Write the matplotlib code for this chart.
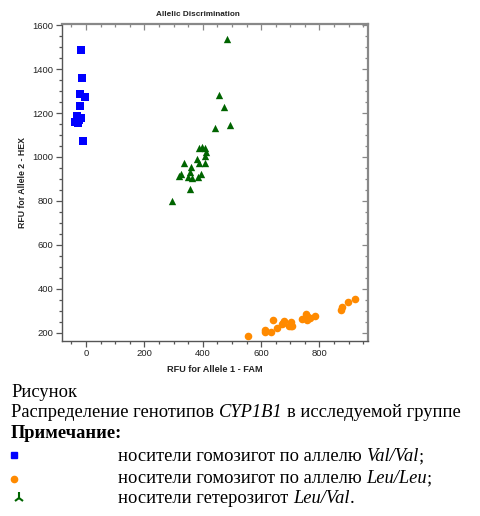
import matplotlib
matplotlib.use("Agg")
import matplotlib.pyplot as plt
from matplotlib.lines import Line2D
from matplotlib.ticker import MultipleLocator

# Data (RFU values)
val_x = [-19, -15, -20, -4, -20, -30, -16, -38, -27, -12, -23]
val_y = [1485, 1360, 1285, 1274, 1230, 1188, 1176, 1159, 1153, 1074, 1168]

leu_x = [554, 613, 612, 633, 641, 656, 671, 679, 675, 695, 702, 703, 707,
         739, 753, 758, 762, 768, 784, 873, 879, 897, 921]
leu_y = [186, 215, 206, 206, 259, 220, 241, 253, 247, 233, 248, 230, 233,
         264, 285, 258, 270, 267, 276, 306, 317, 341, 356]

het_x = [482, 457, 473, 493, 442, 388, 399, 407, 411, 407, 381, 388, 407,
         335, 358, 356, 324, 319, 350, 362, 384, 394, 356, 293]
het_y = [1536, 1283, 1227, 1145, 1133, 1040, 1047, 1040, 1024, 1005, 989, 971, 971,
         971, 953, 933, 923, 914, 910, 906, 910, 923, 853, 801]

# caption lines: (text, italic) pieces, spaces go between pieces
caption = [
    [("Рисунок", False)],
    [("Распределение генотипов", False), ("CYP1B1", True), ("в исследуемой группе", False)],
]
legend_lines = [
    [("носители гомозигот по аллелю", False), ("Val/Val", True), (";", False)],
    [("носители гомозигот по аллелю", False), ("Leu/Leu", True), (";", False)],
    [("носители гетерозигот", False), ("Leu/Val", True), (".", False)],
]

c_blue = "#0000ff"
c_orange = "#ff8a00"
c_green = "#006400"

plt.rcParams["font.family"] = ["Liberation Sans", "DejaVu Sans"]

W, H = 481, 516
fig = plt.figure(figsize=(W / 100, H / 100), dpi=100)
ax = fig.add_axes([0.128, 0.34, 0.638, 0.6135])

ax.scatter(val_x, val_y, marker="s", s=26, color=c_blue, linewidths=0, zorder=3)
ax.scatter(leu_x, leu_y, marker="o", s=30, color=c_orange, linewidths=0, zorder=3)
ax.scatter(het_x, het_y, marker="^", s=28, color=c_green, linewidths=0, zorder=3)

ax.set_xlim(-84, 968)
ax.set_ylim(165, 1605)
ax.xaxis.set_major_locator(MultipleLocator(200))
ax.xaxis.set_minor_locator(MultipleLocator(50))
ax.yaxis.set_major_locator(MultipleLocator(200))
ax.yaxis.set_minor_locator(MultipleLocator(50))
ax.tick_params(which="both", direction="out", colors="#555555", labelcolor="#222222",
               labelsize=6.8, width=0.9, pad=2)
ax.tick_params(which="major", length=4)
ax.tick_params(which="minor", length=2.5)

for side in ["left", "bottom"]:
    ax.spines[side].set_color("#555555")
    ax.spines[side].set_linewidth(1.0)
for side in ["top", "right"]:
    ax.spines[side].set_color("#888888")
    ax.spines[side].set_linewidth(1.6)

# inward ticks on the top and right frame
top = ax.secondary_xaxis("top")
top.xaxis.set_major_locator(MultipleLocator(200))
top.xaxis.set_minor_locator(MultipleLocator(50))
top.tick_params(which="both", direction="in", labeltop=False, colors="#888888", width=0.9)
top.tick_params(which="major", length=4)
top.tick_params(which="minor", length=2.5)
top.spines["top"].set_visible(False)
right = ax.secondary_yaxis("right")
right.yaxis.set_major_locator(MultipleLocator(200))
right.yaxis.set_minor_locator(MultipleLocator(50))
right.tick_params(which="both", direction="in", labelright=False, colors="#888888", width=0.9)
right.tick_params(which="major", length=4)
right.tick_params(which="minor", length=2.5)
right.spines["right"].set_visible(False)

fig.text(198 / W, 1 - 14 / H, "Allelic Discrimination", fontsize=5.9, fontweight="bold",
         color="#222222", ha="center", va="center")
ax.set_xlabel("RFU for Allele 1 - FAM", fontsize=6.6, fontweight="bold", labelpad=5, color="#222222")
ax.set_ylabel("RFU for Allele 2 - HEX", fontsize=6.3, fontweight="bold", labelpad=4, color="#222222")

# caption below the chart, drawn piece by piece so italics can be mixed in
serif = "Liberation Serif"
fs = 13.3
renderer = fig.canvas.get_renderer()


def text_width(s, **kw):
    t = fig.text(0, 0, s, **kw)
    w = t.get_window_extent(renderer).width
    t.remove()
    return w


space = text_width("n n", family=serif, fontsize=fs) - text_width("nn", family=serif, fontsize=fs)


def draw_line(pieces, x_px, base_px, **kw):
    x = x_px
    for i, (s, italic) in enumerate(pieces):
        if i > 0 and s not in (";", "."):
            x += space
        t = fig.text(x / W, 1 - base_px / H, s, family=serif, fontsize=fs,
                     style="italic" if italic else "normal", va="baseline", **kw)
        x += t.get_window_extent(renderer).width


draw_line(caption[0], 11, 397)
draw_line(caption[1], 11, 417)
fig.text(11 / W, 1 - 438 / H, "Примечание:", family=serif, fontsize=fs,
         fontweight="bold", va="baseline")
for line, base in zip(legend_lines, [461, 483, 503]):
    draw_line(line, 118, base)

fig.add_artist(Line2D([14 / W], [1 - 455 / H], marker="s", markersize=3.8,
                      color=c_blue, transform=fig.transFigure))
fig.add_artist(Line2D([14 / W], [1 - 479 / H], marker="o", markersize=4.5,
                      color=c_orange, transform=fig.transFigure))
fig.add_artist(Line2D([19 / W], [1 - 498 / H], marker="2", markersize=8, mew=1.5,
                      color=c_green, transform=fig.transFigure))

fig.savefig("out.png", dpi=100)
